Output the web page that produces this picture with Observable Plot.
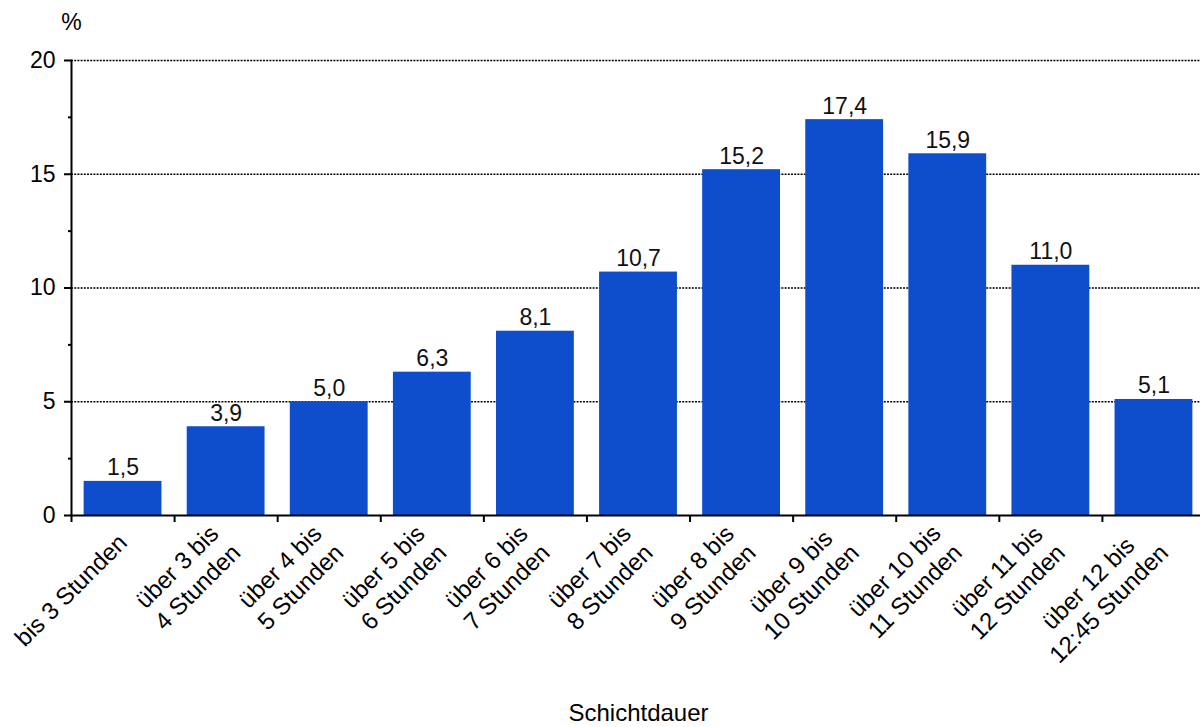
<!DOCTYPE html>
<html><head><meta charset="utf-8">
<script src="https://cdn.jsdelivr.net/npm/d3@7"></script>
<script src="https://cdn.jsdelivr.net/npm/@observablehq/plot@0.6"></script>
<style>body{margin:0;background:#fff} svg{display:block;overflow:hidden}</style>
</head><body><div id="chart"></div>
<script>
const categories = [
  "bis 3 Stunden",
  "über 3 bis\n4 Stunden",
  "über 4 bis\n5 Stunden",
  "über 5 bis\n6 Stunden",
  "über 6 bis\n7 Stunden",
  "über 7 bis\n8 Stunden",
  "über 8 bis\n9 Stunden",
  "über 9 bis\n10 Stunden",
  "über 10 bis\n11 Stunden",
  "über 11 bis\n12 Stunden",
  "über 12 bis\n12:45 Stunden"
];
const values = [1.5, 3.9, 5.0, 6.3, 8.1, 10.7, 15.2, 17.4, 15.9, 11.0, 5.1];
const yTicks = [0, 5, 10, 15, 20];
const yMinorTicks = [2.5, 7.5, 12.5, 17.5];
const gridValues = [5, 10, 15, 20];
const yLabel = "%";
const xLabel = "Schichtdauer";

const W = 1200, H = 727, mL = 71, mR = -5, mT = 60, mB = 212;
const pInner = 0.245, pOuter = 0.1225;
const step = (W - mL - mR) / (categories.length - pInner + 2 * pOuter);
const data = categories.map((c, i) => ({category: c, value: values[i]}));
const fmt = v => v.toFixed(1).replace(".", ",");
const font = 23;

const chart = Plot.plot({
  width: W, height: H,
  marginLeft: mL, marginRight: mR, marginTop: mT, marginBottom: mB,
  style: {fontFamily: "'Liberation Sans', Arial, sans-serif", fontSize: font + "px", color: "#000", background: "#fff"},
  x: {domain: categories, paddingInner: pInner, paddingOuter: pOuter, round: false, axis: null, label: null},
  y: {domain: [0, 20], axis: null, label: null},
  marks: [
    Plot.ruleY(gridValues, {stroke: "#000", strokeWidth: 1.5, strokeDasharray: "2,1.2"}),
    Plot.barY(data, {x: "category", y: "value", fill: "#0e4dcc"}),
    Plot.text(data, {x: "category", y: "value", text: d => fmt(d.value), dy: -6, lineAnchor: "bottom", fontSize: font, fill: "#111"}),
    Plot.ruleY([0], {stroke: "#000", strokeWidth: 2}),
    Plot.frame({anchor: "left", stroke: "#000", strokeWidth: 2}),
    Plot.axisY(yTicks, {tickSize: 7, tickPadding: 9, strokeWidth: 2, fontSize: font, tickFormat: d => String(d)}),
    Plot.axisY(yMinorTicks, {tickSize: 3, strokeWidth: 2, tickFormat: () => ""}),
    Plot.axisX(categories, {tickSize: 7, strokeWidth: 2, dx: -step / 2, tickFormat: () => ""}),
    Plot.axisX(categories, {tickSize: 0, tickPadding: 22, dx: -1, tickRotate: -45, lineAnchor: "middle", textAnchor: "end", lineHeight: 1.2, fontSize: 24}),
    Plot.text([yLabel], {text: d => d, frameAnchor: "top-left", dy: -38, textAnchor: "middle", lineAnchor: "middle", fontSize: font}),
    Plot.text([xLabel], {text: d => d, frameAnchor: "bottom", dy: 198, lineAnchor: "middle", fontSize: 24})
  ]
});
document.getElementById("chart").append(chart);

// centre the lines of each multi-line tick label against the longest line
chart.querySelectorAll('g[aria-label="x-axis tick label"] text').forEach(t => {
  const spans = t.querySelectorAll("tspan");
  if (!spans.length) return;
  const max = Math.max(...[...spans].map(s => s.getComputedTextLength()));
  spans.forEach(s => { s.setAttribute("x", -max / 2); s.setAttribute("text-anchor", "middle"); });
});
</script>
</body></html>
